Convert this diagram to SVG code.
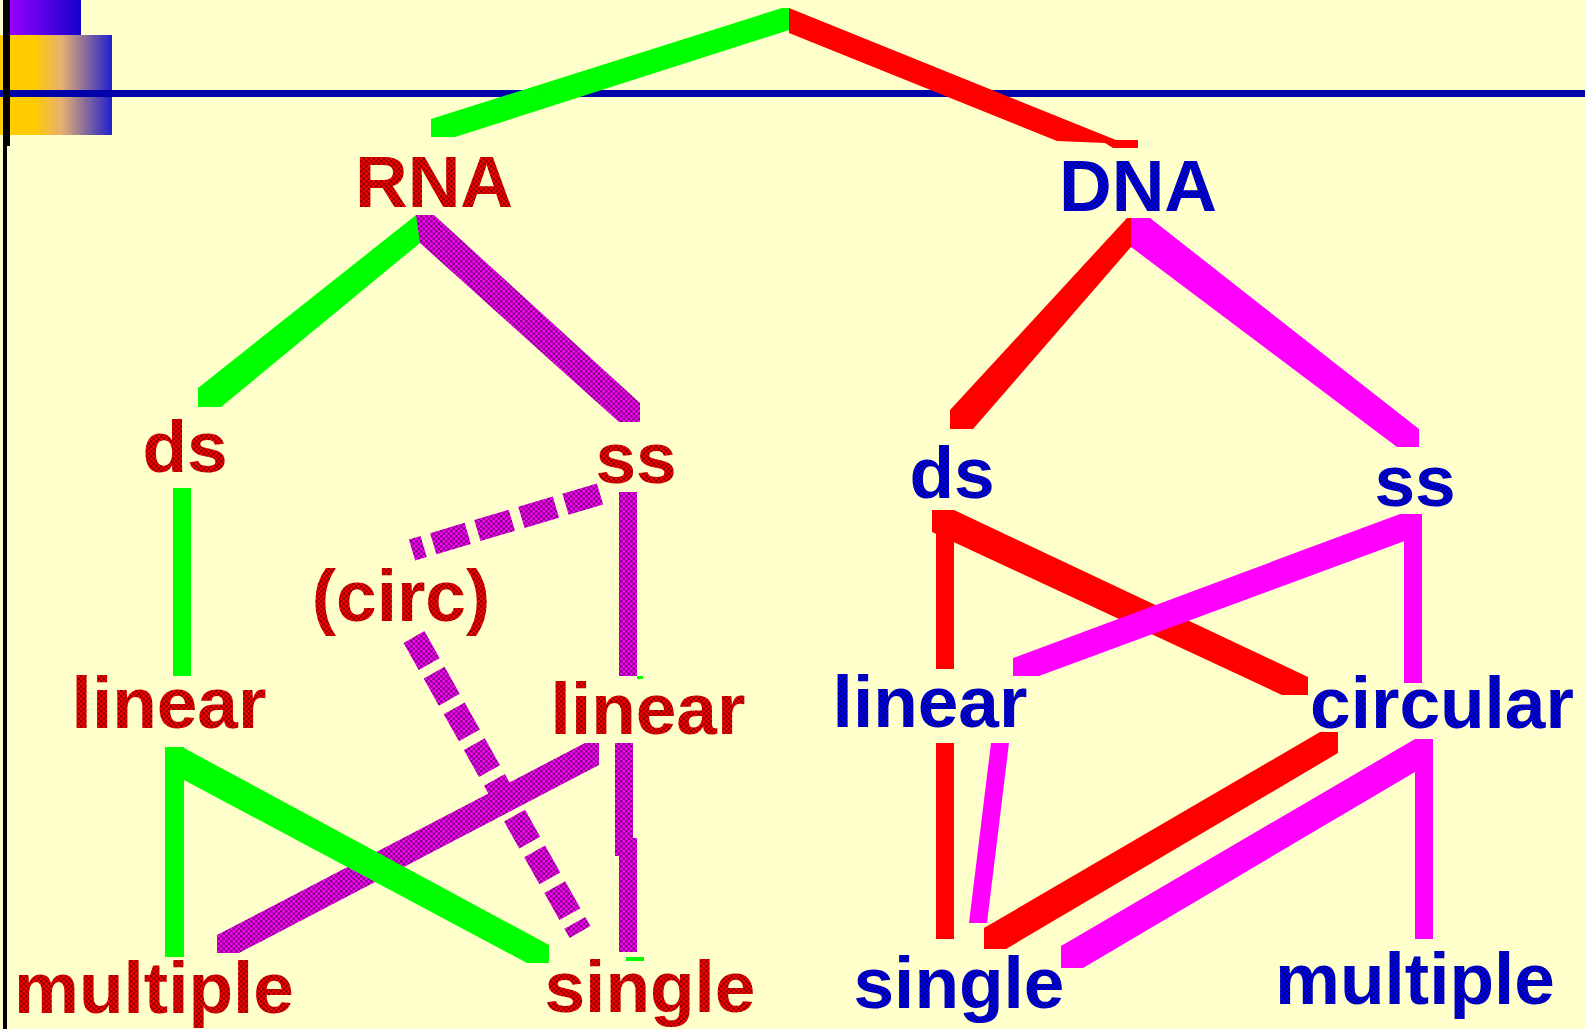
<svg xmlns="http://www.w3.org/2000/svg" width="1585" height="1029" viewBox="0 0 1585 1029">
<defs>
<linearGradient id="gPurple" x1="0" y1="0" x2="1" y2="0"><stop offset="0" stop-color="#9900ff"/><stop offset="1" stop-color="#1400cc"/></linearGradient>
<linearGradient id="gYellow" x1="0" y1="0" x2="1" y2="0"><stop offset="0" stop-color="#ffcc00"/><stop offset="0.3" stop-color="#ffcc00"/><stop offset="0.55" stop-color="#e6b070"/><stop offset="1" stop-color="#1f1fcc"/></linearGradient>
<pattern id="pp" width="5" height="5" patternUnits="userSpaceOnUse"><rect width="5" height="5" fill="#ff00ff"/><rect width="2.5" height="2.5" fill="#800080"/><rect x="2.5" y="2.5" width="2.5" height="2.5" fill="#800080"/></pattern>
<pattern id="pr" width="5" height="5" patternUnits="userSpaceOnUse"><rect width="5" height="5" fill="#ff0000"/><rect width="2.5" height="2.5" fill="#900000"/><rect x="2.5" y="2.5" width="2.5" height="2.5" fill="#900000"/></pattern>
<pattern id="pb" width="5" height="5" patternUnits="userSpaceOnUse"><rect width="5" height="5" fill="#0000ff"/><rect width="2.5" height="2.5" fill="#000080"/><rect x="2.5" y="2.5" width="2.5" height="2.5" fill="#000080"/></pattern>
</defs>
<style>
.t{font-family:"Liberation Sans",Arial,sans-serif;font-weight:bold;font-size:73px;text-anchor:middle}
.r{fill:url(#pr)}
.b{fill:url(#pb)}
.g{fill:#00ff00}
.red{fill:#ff0000}
.mag{fill:#ff00ff}
.pur{fill:url(#pp)}
.dash{fill:none;stroke:url(#pp)}
</style>
<rect width="1585" height="1029" fill="#ffffcc"/>
<g id="decoration">
<rect x="10" y="0" width="71" height="35" fill="url(#gPurple)"/>
<rect x="0" y="35" width="112" height="100" fill="url(#gYellow)"/>
<rect x="0" y="90" width="1585" height="7" fill="#0000aa"/>
<rect x="3" y="0" width="7" height="146" fill="#000000"/>
<rect x="3" y="146" width="4" height="883" fill="#000000"/>
</g>
<g id="connectors">
<polygon class="g" points="431,119 782,8 789,8 789,30 455,137 431,137"/>
<polygon class="red" points="789,8 1116,140 1138,140 1138,148 1113,148 1105,143 1057,141 789,33"/>
<polygon class="g" points="198,388 416,215 420,215 420,243 221,407 198,407"/>
<polygon class="pur" points="416,215 434,215 640,403 640,422 619,422 420,243"/>
<line class="dash" x1="600" y1="494" x2="412" y2="550" stroke-width="22" stroke-dasharray="36 10"/>
<line class="dash" x1="414" y1="637" x2="580" y2="932" stroke-width="24" stroke-dasharray="31 10"/>
<rect class="pur" x="619" y="492" width="18" height="184"/>
<rect class="g" x="637" y="676" width="6" height="3"/>
<rect class="pur" x="615" y="743" width="18" height="113"/>
<rect class="pur" x="619" y="838" width="18" height="114"/>
<rect class="g" x="626" y="957" width="18" height="4"/>
<rect class="g" x="173" y="488" width="18" height="188"/>
<polygon class="pur" points="217,935 585,743 599,743 599,765 239,953 217,953"/>
<rect class="g" x="165" y="747" width="19" height="210"/>
<polygon class="g" points="184,748 549,945 549,963 527,963 184,780"/>
<polygon class="mag" points="1131,218 1150,218 1419,429 1419,447 1397,447 1131,247"/>
<polygon class="red" points="950,410 1127,218 1131,218 1131,247 973,429 950,429"/>
<rect class="red" x="936" y="510" width="18" height="159"/>
<polygon class="red" points="932,510 954,510 1308,677 1308,695 1282,695 932,532"/>
<rect class="mag" x="1404" y="514" width="18" height="169"/>
<polygon class="mag" points="1013,658 1400,514 1421,514 1421,535 1039,676 1013,676"/>
<rect class="red" x="936" y="743" width="18" height="196"/>
<polygon class="mag" points="991,743 1009,743 987,923 969,923"/>
<polygon class="red" points="984,928 1320,732 1338,732 1338,753 1006,949 984,949"/>
<polygon class="mag" points="1061,946 1415,739 1433,739 1433,939 1415,939 1415,772 1083,968 1061,968"/>
</g>
<g id="n-rna"><text class="t r" x="434" y="207">RNA</text></g>
<g id="n-dna"><text class="t b" x="1138" y="211">DNA</text></g>
<g id="n-rna-ds"><text class="t r" x="185" y="472">ds</text></g>
<g id="n-rna-ss"><text class="t r" x="636" y="483">ss</text></g>
<g id="n-rna-circ"><text class="t r" x="401" y="621">(circ)</text></g>
<g id="n-rna-ds-linear"><text class="t r" x="169" y="728">linear</text></g>
<g id="n-rna-ss-linear"><text class="t r" x="648" y="734">linear</text></g>
<g id="n-rna-multiple"><text class="t r" x="154" y="1013">multiple</text></g>
<g id="n-rna-single"><text class="t r" x="650" y="1012">single</text></g>
<g id="n-dna-ds"><text class="t b" x="952" y="498">ds</text></g>
<g id="n-dna-ss"><text class="t b" x="1415" y="506">ss</text></g>
<g id="n-dna-linear"><text class="t b" x="930" y="727">linear</text></g>
<g id="n-dna-circular"><text class="t b" x="1442" y="728">circular</text></g>
<g id="n-dna-single"><text class="t b" x="959" y="1008">single</text></g>
<g id="n-dna-multiple"><text class="t b" x="1415" y="1004">multiple</text></g>
</svg>
